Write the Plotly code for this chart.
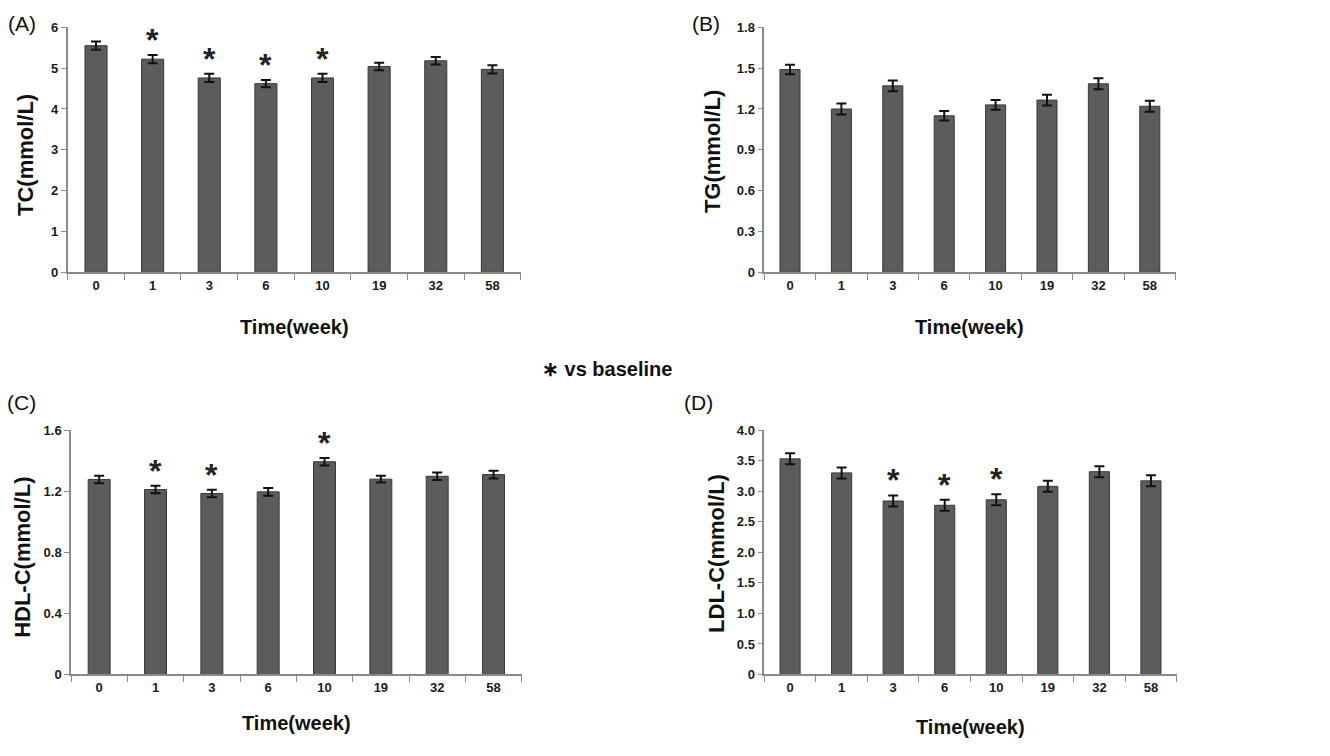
import plotly.graph_objects as go

weeks = ["0", "1", "3", "6", "10", "19", "32", "58"]

tc_vals = [5.55, 5.22, 4.76, 4.62, 4.76, 5.04, 5.18, 4.97]
tc_err = [0.10, 0.10, 0.10, 0.09, 0.10, 0.09, 0.09, 0.10]
tc_sig = [False, True, True, True, True, False, False, False]
tc_ticks = [0, 1, 2, 3, 4, 5, 6]
tc_ticklabels = ["0", "1", "2", "3", "4", "5", "6"]

tg_vals = [1.49, 1.20, 1.37, 1.15, 1.23, 1.265, 1.385, 1.22]
tg_err = [0.035, 0.04, 0.04, 0.035, 0.035, 0.04, 0.04, 0.04]
tg_sig = [False] * 8
tg_ticks = [0, 0.3, 0.6, 0.9, 1.2, 1.5, 1.8]
tg_ticklabels = ["0", "0.3", "0.6", "0.9", "1.2", "1.5", "1.8"]

hdl_vals = [1.277, 1.211, 1.185, 1.196, 1.393, 1.279, 1.298, 1.309]
hdl_err = [0.025, 0.025, 0.025, 0.025, 0.025, 0.022, 0.025, 0.025]
hdl_sig = [False, True, True, False, True, False, False, False]
hdl_ticks = [0, 0.4, 0.8, 1.2, 1.6]
hdl_ticklabels = ["0", "0.4", "0.8", "1.2", "1.6"]

ldl_vals = [3.53, 3.30, 2.84, 2.77, 2.86, 3.08, 3.32, 3.17]
ldl_err = [0.09, 0.09, 0.09, 0.09, 0.09, 0.09, 0.09, 0.09]
ldl_sig = [False, False, True, True, True, False, False, False]
ldl_ticks = [0, 0.5, 1.0, 1.5, 2.0, 2.5, 3.0, 3.5, 4.0]
ldl_ticklabels = ["0", "0.5", "1.0", "1.5", "2.0", "2.5", "3.0", "3.5", "4.0"]

panels = [
    dict(vals=tc_vals, err=tc_err, sig=tc_sig, ytitle="TC(mmol/L)", label="(A)",
         yrange=[0, 6], tv=tc_ticks, tt=tc_ticklabels,
         xdom=[67.7, 520.7], ydom=[20.7, 270.7],
         ytx=25, yty=151, lab=(22, 17), xtitle_y=326),
    dict(vals=tg_vals, err=tg_err, sig=tg_sig, ytitle="TG(mmol/L)", label="(B)",
         yrange=[0, 1.8], tv=tg_ticks, tt=tg_ticklabels,
         xdom=[764.3, 1175.5], ydom=[20.7, 270.7],
         ytx=712, yty=148, lab=(706, 17), xtitle_y=326),
    dict(vals=hdl_vals, err=hdl_err, sig=hdl_sig, ytitle="HDL-C(mmol/L)", label="(C)",
         yrange=[0, 1.6], tv=hdl_ticks, tt=hdl_ticklabels,
         xdom=[71, 521.7], ydom=[431.7, 681],
         ytx=23, yty=562, lab=(22, 404), xtitle_y=730),
    dict(vals=ldl_vals, err=ldl_err, sig=ldl_sig, ytitle="LDL-C(mmol/L)", label="(D)",
         yrange=[0, 4.0], tv=ldl_ticks, tt=ldl_ticklabels,
         xdom=[764.3, 1176.7], ydom=[431.7, 681],
         ytx=717, yty=558, lab=(698, 404), xtitle_y=735),
]

W, H = 1330, 756
fig = go.Figure()
annotations = []
layout = {}

tickfont = dict(family="Liberation Sans Narrow, Arial Narrow, Liberation Sans, Arial", size=13,
                color="#1a1a1a", weight="bold")
axcol = "#8a8a8a"

for i, p in enumerate(panels):
    n = i + 1
    xa = "x" if n == 1 else f"x{n}"
    ya = "y" if n == 1 else f"y{n}"
    fig.add_trace(go.Bar(
        x=weeks, y=p["vals"], xaxis=xa, yaxis=ya,
        marker=dict(color="#5c5c5c", line=dict(color="#3a3a3a", width=1)),
        error_y=dict(type="data", array=p["err"], color="#111111", thickness=2, width=5),
        showlegend=False, hoverinfo="skip",
    ))
    xd = [p["xdom"][0] / W, p["xdom"][1] / W]
    yd = [1 - p["ydom"][1] / H, 1 - p["ydom"][0] / H]
    layout["xaxis" if n == 1 else f"xaxis{n}"] = dict(
        domain=xd, anchor=ya, type="category", range=[-0.5, 7.5],
        showline=True, linecolor=axcol, linewidth=1.5,
        ticks="outside", tickson="boundaries", ticklen=6, tickcolor=axcol, tickwidth=1.2,
        showgrid=False, tickfont=tickfont, zeroline=False, fixedrange=True,
    )
    layout["yaxis" if n == 1 else f"yaxis{n}"] = dict(
        domain=yd, anchor=xa, range=p["yrange"],
        tickmode="array", tickvals=p["tv"], ticktext=p["tt"],
        showline=True, linecolor=axcol, linewidth=1.5,
        ticks="outside", ticklen=5, tickcolor=axcol, tickwidth=1.2,
        showgrid=False, tickfont=tickfont, zeroline=False, fixedrange=True,
    )

    # y title
    annotations.append(dict(
        text=p["ytitle"], x=p["ytx"] / W, y=1 - p["yty"] / H, xref="paper", yref="paper",
        textangle=-90, showarrow=False, xanchor="center", yanchor="middle",
        font=dict(family="Liberation Sans, Arial", size=22, color="#111111", weight="bold"),
    ))
    # x title
    annotations.append(dict(
        text="Time(week)", x=(p["xdom"][0] + p["xdom"][1]) / 2 / W, y=1 - p["xtitle_y"] / H,
        xref="paper", yref="paper", showarrow=False, xanchor="center", yanchor="middle",
        font=dict(family="Liberation Sans Narrow, Arial Narrow, Liberation Sans, Arial", size=20,
                  color="#111111", weight="bold"),
    ))
    # panel label
    annotations.append(dict(
        text=p["label"], x=p["lab"][0] / W, y=1 - p["lab"][1] / H, xref="paper", yref="paper",
        showarrow=False, xanchor="center", yanchor="middle",
        font=dict(family="Liberation Sans, Arial", size=21, color="#111111"),
    ))
    # significance asterisks
    for k, s in enumerate(p["sig"]):
        if s:
            annotations.append(dict(
                text="*", x=k, y=p["vals"][k] + p["err"][k], xref=xa, yref=ya,
                showarrow=False, xanchor="center", yanchor="bottom", yshift=-5,
                font=dict(family="Liberation Sans, Arial", size=32, color="#222222",
                          weight="bold"),
            ))

annotations.append(dict(
    text="∗ vs baseline", x=607 / W, y=1 - 369 / H, xref="paper", yref="paper",
    showarrow=False, xanchor="center", yanchor="middle",
    font=dict(family="Liberation Sans, Arial", size=20, color="#111111", weight="bold"),
))

fig.update_layout(
    width=W, height=H, margin=dict(l=0, r=0, t=0, b=0),
    paper_bgcolor="white", plot_bgcolor="white",
    bargap=0.61, annotations=annotations, **layout,
)

fig.write_html("out.html")
